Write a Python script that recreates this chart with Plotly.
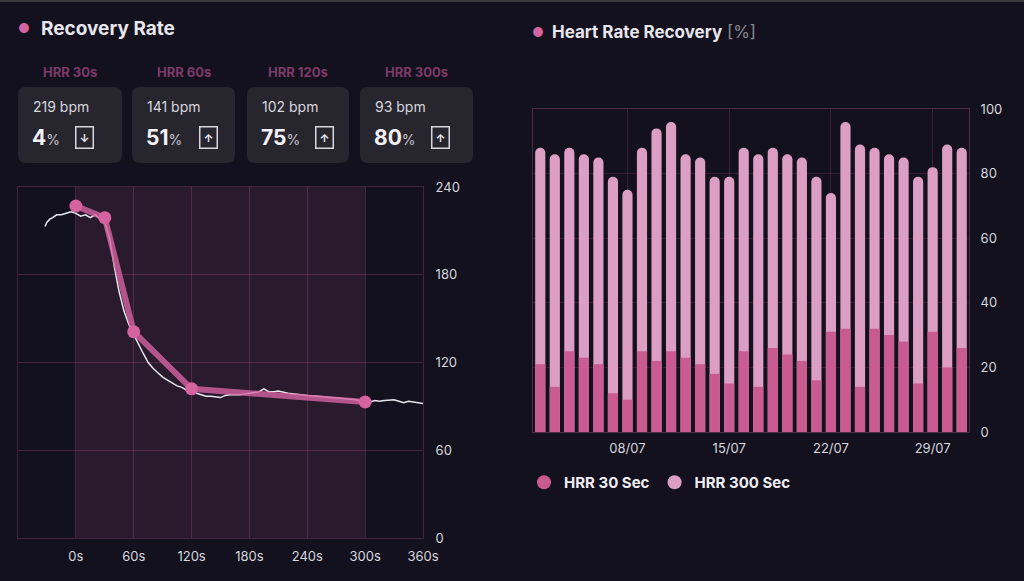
import plotly.graph_objects as go

# recovery curve: measured HR (white) and the HRR checkpoints (pink)
hr_t = [-32, -30, -27, -24, -20, -15, -10, -5, 0, 5, 10, 15, 20, 25, 30, 35, 40, 45, 50, 55,
        60, 65, 70, 75, 80, 85, 90, 95, 100, 105, 110, 115, 120, 125, 130, 135, 140, 145, 150,
        155, 160, 170, 180, 190, 195, 200, 205, 210, 220, 230, 240, 250, 260, 270, 280, 290,
        300, 305, 310, 315, 320, 325, 330, 335, 340, 345, 350, 355, 360]
hr_bpm = [213, 216, 218, 219, 221, 221, 222, 223, 222, 220, 221, 219, 221, 218, 216, 205, 185,
          168, 155, 146, 139, 132, 126, 120, 116, 113, 110, 108, 106, 104, 103, 101, 100, 99,
          98, 97, 97, 96.5, 96, 97.5, 98, 98, 99, 100, 102, 100, 100, 100.5, 99, 98, 97.5, 97,
          96.5, 96, 95.5, 94.5, 93, 93, 94, 93.5, 94, 94, 94.5, 93.5, 92.5, 93.5, 93, 92, 92]
chk_t = [0, 30, 60, 120, 300]
chk_bpm = [227, 219, 141, 102, 93]

# summary cards
card_labels = ["HRR 30s", "HRR 60s", "HRR 120s", "HRR 300s"]
card_bpm = [219, 141, 102, 93]
card_pct = [4, 51, 75, 80]
card_up = [False, True, True, True]

# daily heart rate recovery, 02/07 .. 31/07
days = list(range(2, 32))
hrr30 = [21, 14, 25, 23, 21, 12, 10, 25, 22, 25, 23, 21, 18, 15, 25, 14, 26, 24, 22, 16,
         31, 32, 14, 32, 30, 28, 15, 31, 20, 26]
hrr300 = [88, 86, 88, 86, 85, 79, 75, 88, 94, 96, 86, 85, 79, 79, 88, 86, 88, 86, 85, 79,
          74, 96, 89, 88, 86, 85, 79, 82, 89, 88]
day_ticks = [8, 15, 22, 29]
day_labels = ["08/07", "15/07", "22/07", "29/07"]

BG = "#12111d"
PINK = "#d463a0"
DARK_BAR = "#c95b90"
LIGHT_BAR = "#dc9ec2"
GRID = "rgba(190,90,150,0.28)"
FONT = "Inter"
W, H = 1024, 581


def px(x):
    return x / W


def py(y):
    return 1 - y / H


def rrect(x0, y0, x1, y1, r):
    # rounded rectangle path in paper coords (input in pixels)
    pts = [
        f"M {px(x0 + r)} {py(y0)}", f"L {px(x1 - r)} {py(y0)}",
        f"Q {px(x1)} {py(y0)} {px(x1)} {py(y0 + r)}", f"L {px(x1)} {py(y1 - r)}",
        f"Q {px(x1)} {py(y1)} {px(x1 - r)} {py(y1)}", f"L {px(x0 + r)} {py(y1)}",
        f"Q {px(x0)} {py(y1)} {px(x0)} {py(y1 - r)}", f"L {px(x0)} {py(y0 + r)}",
        f"Q {px(x0)} {py(y0)} {px(x0 + r)} {py(y0)}", "Z",
    ]
    return " ".join(pts)


fig = go.Figure()

# left chart
fig.add_trace(go.Scatter(x=hr_t, y=hr_bpm, mode="lines", line=dict(color="#e8e6ee", width=1.5),
                         showlegend=False, xaxis="x", yaxis="y"))
fig.add_trace(go.Scatter(x=chk_t, y=chk_bpm, mode="lines+markers",
                         line=dict(color="rgba(214,100,162,0.8)", width=6),
                         marker=dict(color=PINK, size=13), showlegend=False,
                         xaxis="x", yaxis="y"))

# right chart
fig.add_trace(go.Bar(x=days, y=hrr300, marker=dict(color=LIGHT_BAR, cornerradius=5, line_width=0),
                     width=0.7, name="HRR 300 Sec", showlegend=False, xaxis="x2", yaxis="y2"))
fig.add_trace(go.Bar(x=days, y=hrr30, marker=dict(color=DARK_BAR, line_width=0),
                     width=0.7, name="HRR 30 Sec", showlegend=False, xaxis="x2", yaxis="y2"))
# legend entries with round symbols
fig.add_trace(go.Scatter(x=[None], y=[None], mode="markers", name="HRR 30 Sec",
                         marker=dict(color=DARK_BAR, size=14), xaxis="x2", yaxis="y2"))
fig.add_trace(go.Scatter(x=[None], y=[None], mode="markers", name="HRR 300 Sec",
                         marker=dict(color=LIGHT_BAR, size=14), xaxis="x2", yaxis="y2"))

axis_font = dict(family=FONT, size=13, color="#d8d6de")

fig.update_layout(
    width=W, height=H, margin=dict(l=0, r=0, t=0, b=0),
    paper_bgcolor=BG, plot_bgcolor=BG, barmode="overlay",
    font=dict(family=FONT, color="#e8e6ee"),
    xaxis=dict(domain=[px(18), px(423)], range=[-60, 360], tickvals=[0, 60, 120, 180, 240, 300, 360],
               ticktext=[f"{v}s" for v in [0, 60, 120, 180, 240, 300, 360]],
               showgrid=True, gridcolor=GRID, gridwidth=1, zeroline=False, automargin=False,
               showline=True, linecolor=GRID, mirror=True, tickfont=axis_font, ticklen=0,
               ticklabelstandoff=6),
    yaxis=dict(domain=[py(538), py(187)], range=[0, 240], dtick=60, side="right",
               showgrid=True, gridcolor=GRID, zeroline=False, showline=True, linecolor=GRID,
               mirror=True, tickfont=axis_font, ticklen=0, automargin=False,
               ticklabelstandoff=9),
    xaxis2=dict(domain=[px(533), px(969)], range=[1.5, 31.5], tickvals=day_ticks, ticktext=day_labels,
                anchor="y2", showgrid=True, gridcolor="rgba(190,90,150,0.22)", zeroline=False,
                showline=True, linecolor="rgba(190,90,150,0.35)", mirror=True,
                tickfont=axis_font, ticklen=0, automargin=False, ticklabelstandoff=4),
    yaxis2=dict(domain=[py(432), py(109)], range=[0, 100], dtick=20, side="right", anchor="x2",
                showgrid=True, gridcolor="rgba(190,90,150,0.18)", zeroline=False,
                showline=True, linecolor="rgba(190,90,150,0.35)", mirror=True,
                tickfont=axis_font, ticklen=0, automargin=False, ticklabelstandoff=8),
    legend=dict(orientation="h", x=px(524), y=py(466), xanchor="left", yanchor="top",
                font=dict(family=FONT, size=15, color="#f0eef4", weight="bold"),
                bgcolor="rgba(0,0,0,0)", itemwidth=30),
)

shapes = [
    # shaded recovery window 0..300 s
    dict(type="rect", xref="x", yref="y domain", x0=0, x1=300, y0=0, y1=1,
         fillcolor="#2a1a2e", line_width=0, layer="below"),
    dict(type="line", xref="paper", yref="paper", x0=0, x1=1, y0=py(1), y1=py(1),
         line=dict(color="#3a3a40", width=2)),
]
annotations = [
    dict(text="●", x=px(24), y=py(28), font=dict(size=13, color=PINK)),
    dict(text="<b>Recovery Rate</b>", x=px(39), y=py(28), xanchor="left",
         font=dict(size=19, color="#e8e6ee")),
    dict(text="●", x=px(538), y=py(32), font=dict(size=13, color=PINK)),
    dict(text="<b>Heart Rate Recovery</b> <span style='color:#8a8894'>[%]</span>",
         x=px(550), y=py(32), xanchor="left", font=dict(size=17, color="#e8e6ee")),
]

card_left = [18, 132, 247, 360]
card_right = [122, 235, 349, 473]
icon_off = [66, 76, 77, 80]
for i in range(4):
    l, r = card_left[i], card_right[i]
    shapes.append(dict(type="path", xref="paper", yref="paper", path=rrect(l, 87, r, 163, 8),
                       fillcolor="#27252e", line_width=0))
    annotations.append(dict(text=f"<b>{card_labels[i]}</b>", x=px((l + r) / 2), y=py(72),
                            font=dict(size=13, color="#7d3a68")))
    annotations.append(dict(text=f"{card_bpm[i]} bpm", x=px(l + 13), y=py(107), xanchor="left",
                            font=dict(size=14, color="#d8d6de")))
    annotations.append(dict(text=f"<b>{card_pct[i]}</b><span style='font-size:14px;color:#c8c6ce'>%</span>",
                            x=px(l + 12), y=py(138), xanchor="left",
                            font=dict(size=21, color="#f4f2f8")))
    annotations.append(dict(text="<b>↑</b>" if card_up[i] else "<b>↓</b>",
                            x=px(l + icon_off[i]), y=py(138),
                            font=dict(size=11, color="#e8e6ee"),
                            bordercolor="#d8d6de", borderwidth=1.5, borderpad=3))

for a in annotations:
    a.update(xref="paper", yref="paper", showarrow=False, yanchor="middle")
    a.setdefault("xanchor", "center")
fig.update_layout(shapes=shapes, annotations=annotations)

# drop the browser's default page margin so the figure sits at the window origin
fig.write_html("out.html", config={"displayModeBar": False},
               post_script="document.body.style.margin='0';")
